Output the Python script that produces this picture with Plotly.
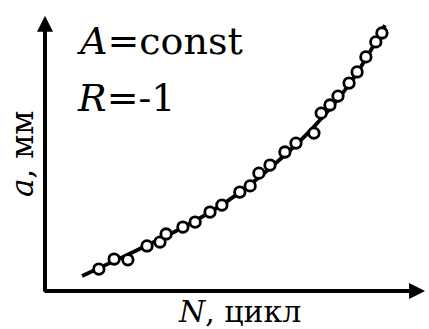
import plotly.graph_objects as go

# Crack length a versus number of cycles N (arbitrary units, no ticks drawn)
n_points = [14.1, 18.1, 21.7, 26.7, 30.1, 31.7, 36.1, 39.3, 43.2, 46.3, 51.0, 53.7, 56.0,
            58.9, 62.8, 65.7, 70.4, 72.3, 74.6, 76.7, 79.6, 81.7, 84.0, 86.6, 88.2]
a_points = [7.9, 11.5, 11.2, 16.2, 17.6, 20.5, 23.0, 24.8, 28.4, 30.9, 35.6, 37.8, 42.4,
            45.3, 50.0, 53.2, 56.8, 64.0, 66.9, 70.1, 74.8, 78.8, 84.2, 89.6, 92.8]

# Smoothed growth curve
n_curve = [9.7, 20, 30, 40, 50, 60, 70, 80, 89]
a_curve = [5.4, 12.0, 18.6, 25.8, 34.5, 45.5, 58.5, 75.0, 95.6]

FONT = "DejaVu Serif"

fig = go.Figure()
fig.add_trace(go.Scatter(x=n_curve, y=a_curve, mode="lines",
                         line=dict(color="black", width=3.8, shape="spline"),
                         hoverinfo="skip"))
fig.add_trace(go.Scatter(x=n_points, y=a_points, mode="markers",
                         marker=dict(symbol="circle", size=10.5, color="white",
                                     line=dict(color="black", width=2.8)),
                         cliponaxis=False))

# Axes drawn as arrows
arrow = dict(xref="x", yref="y", axref="x", ayref="y", text="", showarrow=True,
             arrowhead=2, arrowwidth=4, arrowsize=0.8, arrowcolor="black",
             standoff=0, startstandoff=0)
fig.add_annotation(x=0, y=99, ax=0, ay=-0.8, **arrow)
fig.add_annotation(x=99.5, y=0, ax=-0.5, ay=0, **arrow)

# Texts
fig.add_annotation(xref="paper", yref="paper", x=0.0785, y=0.899, xanchor="left",
                   yanchor="middle", showarrow=False, text="<i>A</i>=const",
                   font=dict(family=FONT, size=38, color="black"))
fig.add_annotation(xref="paper", yref="paper", x=0.0785, y=0.694, xanchor="left",
                   yanchor="middle", showarrow=False, text="<i>R</i>=-1",
                   font=dict(family=FONT, size=38, color="black"))
fig.add_annotation(xref="paper", yref="paper", x=0.51, y=-0.075, xanchor="center",
                   yanchor="middle", showarrow=False, text="<i>N</i>, цикл",
                   font=dict(family=FONT, size=30, color="black"))
fig.add_annotation(xref="paper", yref="paper", x=-0.06, y=0.493, xanchor="center",
                   yanchor="middle", showarrow=False, text="<i>a</i>, мм", textangle=-90,
                   font=dict(family=FONT, size=31, color="black"))

fig.update_layout(
    width=429, height=329,
    margin=dict(l=45, r=2, t=13, b=38),
    paper_bgcolor="white", plot_bgcolor="white",
    showlegend=False,
    xaxis=dict(range=[0, 100], visible=False),
    yaxis=dict(range=[0, 100], visible=False),
)

fig.write_html("out.html")
